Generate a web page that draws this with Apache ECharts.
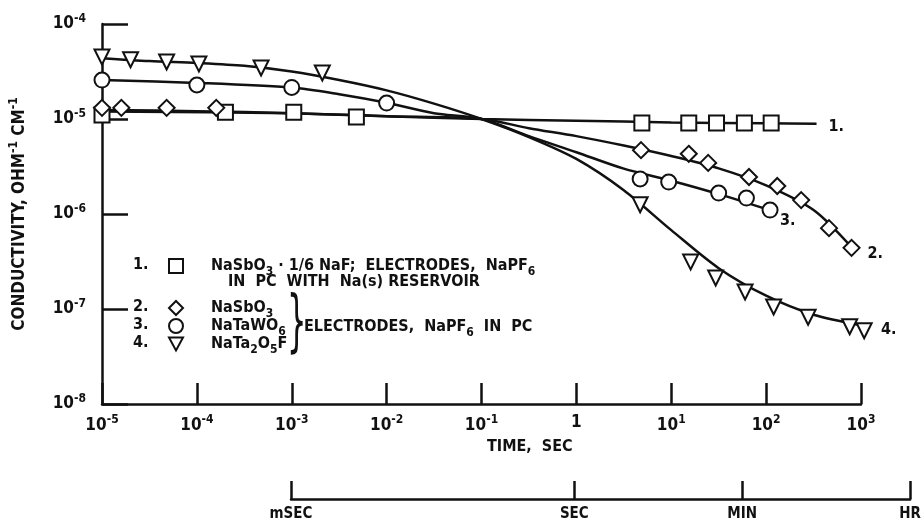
<!DOCTYPE html>
<html lang="en">
<head>
<meta charset="UTF-8">
<title>conductivity vs time</title>
<style>
  html, body { margin: 0; padding: 0; background: #fff; }
  #chart { width: 924px; height: 527px; }
</style>
</head>
<body>
<div id="chart"></div>
<script src="https://cdn.jsdelivr.net/npm/echarts@6/dist/echarts.min.js"></script>
<script>
// axis ticks
var timeTicks = [1e-5, 1e-4, 1e-3, 1e-2, 1e-1, 1, 1e1, 1e2, 1e3];
var timeTickLabels = ['10{sup|-5}', '10{sup|-4}', '10{sup|-3}', '10{sup|-2}', '10{sup|-1}', '1', '10{sup|1}', '10{sup|2}', '10{sup|3}'];
var condTicks = [1e-8, 1e-7, 1e-6, 1e-5, 1e-4];
var condTickLabels = ['10{sup|-8}', '10{sup|-7}', '10{sup|-6}', '10{sup|-5}', '10{sup|-4}'];
var unitTicks = [1e-3, 1, 60, 3600];
var unitTickLabels = ['mSEC', 'SEC', 'MIN', 'HR'];

// measured points (time s, conductivity ohm-1 cm-1)
var sbfTime = [1e-5, 2.0e-4, 1.05e-3, 4.8e-3, 4.9, 15.3, 30, 59, 113];
var sbfCond = [1.1e-5, 1.18e-5, 1.18e-5, 1.05e-5, 9.1e-6, 9.1e-6, 9.1e-6, 9.1e-6, 9.1e-6];
var sbTime = [1e-5, 1.6e-5, 4.8e-5, 1.6e-4, 4.8, 15.3, 24.5, 66, 131, 234, 460, 795];
var sbCond = [1.31e-5, 1.31e-5, 1.31e-5, 1.31e-5, 4.7e-6, 4.3e-6, 3.45e-6, 2.45e-6, 1.97e-6, 1.4e-6, 7.1e-7, 4.4e-7];
var twTime = [1e-5, 1e-4, 1.0e-3, 1e-2, 4.7, 9.4, 31.6, 62, 110];
var twCond = [2.57e-5, 2.28e-5, 2.15e-5, 1.47e-5, 2.34e-6, 2.17e-6, 1.66e-6, 1.47e-6, 1.1e-6];
var tfTime = [1e-5, 2.0e-5, 4.8e-5, 1.05e-4, 4.75e-4, 2.1e-3, 4.7, 16, 29.4, 60, 120, 277, 760, 1080];
var tfCond = [4.5e-5, 4.2e-5, 3.98e-5, 3.8e-5, 3.44e-5, 3.05e-5, 1.25e-6, 3.13e-7, 2.12e-7, 1.51e-7, 1.05e-7, 8.2e-8, 6.5e-8, 5.9e-8];

// fitted curves, read every half decade or so
var sbfFitTime = [1e-5, 1e-3, 1e-2, 1e-1, 1, 10, 100, 340];
var sbfFitCond = [1.2e-5, 1.15e-5, 1.07e-5, 1.0e-5, 9.6e-6, 9.2e-6, 9.0e-6, 8.9e-6];
var sbFitTime = [1e-5, 1e-4, 1e-3, 1e-2, 1e-1, 0.316, 1, 3.16, 10, 31.6, 100, 316, 794];
var sbFitCond = [1.245e-5, 1.21e-5, 1.15e-5, 1.07e-5, 1.0e-5, 8.0e-6, 6.6e-6, 5.25e-6, 4.07e-6, 3.02e-6, 2.0e-6, 1.1e-6, 4.47e-7];
var twFitTime = [1e-5, 1e-4, 1e-3, 3.16e-3, 1e-2, 3.16e-2, 1e-1, 0.316, 1, 3.16, 10, 31.6, 115];
var twFitCond = [2.57e-5, 2.4e-5, 2.14e-5, 1.82e-5, 1.48e-5, 1.15e-5, 1.0e-5, 6.6e-6, 4.47e-6, 3.0e-6, 2.24e-6, 1.62e-6, 1.08e-6];
var tfFitTime = [1e-5, 3.16e-5, 1e-4, 3.16e-4, 1e-3, 3.16e-3, 1e-2, 3.16e-2, 1e-1, 0.316, 1, 3.16, 10, 31.6, 100, 316, 1000];
var tfFitCond = [4.37e-5, 4.07e-5, 3.89e-5, 3.63e-5, 3.16e-5, 2.57e-5, 2.0e-5, 1.45e-5, 1.0e-5, 6.46e-6, 3.8e-6, 1.78e-6, 6.76e-7, 2.69e-7, 1.38e-7, 8.7e-8, 6.76e-8];

var FONT = '"Liberation Sans Narrow", "DejaVu Sans Condensed", sans-serif';
var INK = '#111';

function pairs(xs, ys) {
    return xs.map(function (x, i) { return [x, ys[i]]; });
}

// pick label of the nearest tick (log distance)
function tickLabel(ticks, labels) {
    return function (v) {
        var best = 0;
        ticks.forEach(function (t, i) {
            if (Math.abs(Math.log10(t) - Math.log10(v)) < Math.abs(Math.log10(ticks[best]) - Math.log10(v))) best = i;
        });
        return labels[best];
    };
}

var supRich = {
    sup: { fontFamily: FONT, fontWeight: 'bold', fontSize: 12, color: INK, padding: [0, 0, 11, 0] }
};
var subRich = {
    sub: { fontFamily: FONT, fontWeight: 'bold', fontSize: 12, color: INK, padding: [12, 0, 0, 0] },
    g: { width: 23 }
};

var names = ['NaSbO3-NaF', 'NaSbO3', 'NaTaWO6', 'NaTa2O5F'];
var legendText = {
    'NaSbO3-NaF': '{g|}NaSbO{sub|3} \u00b7 1/6 NaF;  ELECTRODES,  NaPF{sub|6}',
    'NaSbO3': '{g|}NaSbO{sub|3}',
    'NaTaWO6': '{g|}NaTaWO{sub|6}',
    'NaTa2O5F': '{g|}NaTa{sub|2}O{sub|5}F'
};

function fitSeries(name, xs, ys, tag, off) {
    return {
        name: name + ' fit',
        type: 'line',
        data: pairs(xs, ys),
        smooth: 0.3,
        symbol: 'none',
        silent: true,
        z: 2,
        lineStyle: { color: INK, width: 2.5 },
        endLabel: {
            show: true, formatter: tag, offset: off,
            fontFamily: FONT, fontWeight: 'bold', fontSize: 16, color: INK
        }
    };
}

function pointSeries(name, xs, ys, symbol, size, rot) {
    return {
        name: name,
        type: 'scatter',
        data: pairs(xs, ys),
        symbol: symbol,
        symbolSize: size,
        symbolRotate: rot || 0,
        clip: false,
        z: 3,
        itemStyle: { color: '#fff', borderColor: INK, borderWidth: 2, opacity: 1 }
    };
}

var chart = echarts.init(document.getElementById('chart'));

var legendBase = {
    orient: 'vertical',
    padding: 0,
    itemWidth: 14,
    itemHeight: 14,
    itemGap: -3,
    selectedMode: false,
    formatter: function (n) { return legendText[n]; },
    textStyle: { fontFamily: FONT, fontWeight: 'bold', fontSize: 16, color: INK, lineHeight: 18, rich: subRich }
};

var option = {
    animation: false,
    backgroundColor: '#fff',
    grid: [
        { left: 98, right: 63, top: 24, bottom: 123, show: false },
        { left: 291, right: 10, top: 470, bottom: 28, show: false }
    ],
    xAxis: [{
        type: 'log', logBase: 10, gridIndex: 0,
        min: 1e-5, max: 1e3,
        axisLine: { show: true, lineStyle: { color: INK, width: 2.5 } },
        axisTick: { show: true, inside: true, length: 21, customValues: timeTicks, lineStyle: { color: INK, width: 2.5 } },
        axisLabel: {
            customValues: timeTicks, margin: 10,
            formatter: tickLabel(timeTicks, timeTickLabels),
            fontFamily: FONT, fontWeight: 'bold', fontSize: 17, color: INK, rich: supRich
        },
        splitLine: { show: false },
        minorTick: { show: false }
    }, {
        type: 'log', logBase: 10, gridIndex: 1,
        min: 1e-3, max: 3600,
        axisLine: { show: true, lineStyle: { color: INK, width: 2.5 } },
        axisTick: { show: true, inside: true, length: 18, customValues: unitTicks, lineStyle: { color: INK, width: 2.5 } },
        axisLabel: {
            customValues: unitTicks, margin: 8,
            formatter: tickLabel(unitTicks, unitTickLabels),
            fontFamily: FONT, fontWeight: 'bold', fontSize: 15, color: INK
        },
        splitLine: { show: false }
    }],
    yAxis: [{
        type: 'log', logBase: 10, gridIndex: 0,
        min: 1e-8, max: 1e-4,
        name: 'CONDUCTIVITY, OHM{sup|-1} CM{sup|-1}',
        nameLocation: 'middle',
        nameGap: 71,
        nameTextStyle: { fontFamily: FONT, fontWeight: 'bold', fontSize: 17, color: INK, rich: supRich },
        axisLine: { show: true, lineStyle: { color: INK, width: 2.5 } },
        axisTick: { show: true, inside: true, length: 26, customValues: condTicks, lineStyle: { color: INK, width: 2.5 } },
        axisLabel: {
            customValues: condTicks, margin: 16,
            formatter: tickLabel(condTicks, condTickLabels),
            fontFamily: FONT, fontWeight: 'bold', fontSize: 17, color: INK, rich: supRich
        },
        splitLine: { show: false }
    }, {
        type: 'value', gridIndex: 1, show: false, min: 0, max: 1
    }],
    legend: [
        Object.assign({}, legendBase, { data: [names[0]], left: 168, top: 257 }),
        Object.assign({}, legendBase, {
            data: [names[1], names[2], { name: names[3], icon: 'path://M0,0L12,0L6,11Z' }],
            left: 168, top: 299
        })
    ],
    graphic: [
        { type: 'text', left: 133, top: 257, style: { text: '1.', font: 'bold 16px ' + FONT, fill: INK } },
        { type: 'text', left: 133, top: 299, style: { text: '2.', font: 'bold 16px ' + FONT, fill: INK } },
        { type: 'text', left: 133, top: 317, style: { text: '3.', font: 'bold 16px ' + FONT, fill: INK } },
        { type: 'text', left: 133, top: 335, style: { text: '4.', font: 'bold 16px ' + FONT, fill: INK } },
        { type: 'text', left: 228, top: 274, style: { text: 'IN  PC  WITH  Na(s) RESERVOIR', font: 'bold 16px ' + FONT, fill: INK } },
        { type: 'text', left: 287, top: 292, scaleX: 0.5, style: { text: '}', font: '68px ' + FONT, fill: INK } },
        { type: 'text', left: 304, top: 319, style: { text: 'ELECTRODES,  NaPF{sub|6}  IN  PC', font: 'bold 16px ' + FONT, fill: INK, rich: subRich } },
        { type: 'text', left: 487, top: 439, style: { text: 'TIME,  SEC', font: 'bold 16px ' + FONT, fill: INK } }
    ],
    series: [
        fitSeries(names[0], sbfFitTime, sbfFitCond, '1.', [4, 3]),
        fitSeries(names[1], sbFitTime, sbFitCond, '2.', [8, 7]),
        fitSeries(names[2], twFitTime, twFitCond, '3.', [0, 10]),
        fitSeries(names[3], tfFitTime, tfFitCond, '4.', [12, 5]),
        pointSeries(names[0], sbfTime, sbfCond, 'rect', 15),
        pointSeries(names[1], sbTime, sbCond, 'diamond', 16),
        pointSeries(names[2], twTime, twCond, 'circle', 15),
        pointSeries(names[3], tfTime, tfCond, 'triangle', 15, 180)
    ]
};

chart.setOption(option);
</script>
</body>
</html>
